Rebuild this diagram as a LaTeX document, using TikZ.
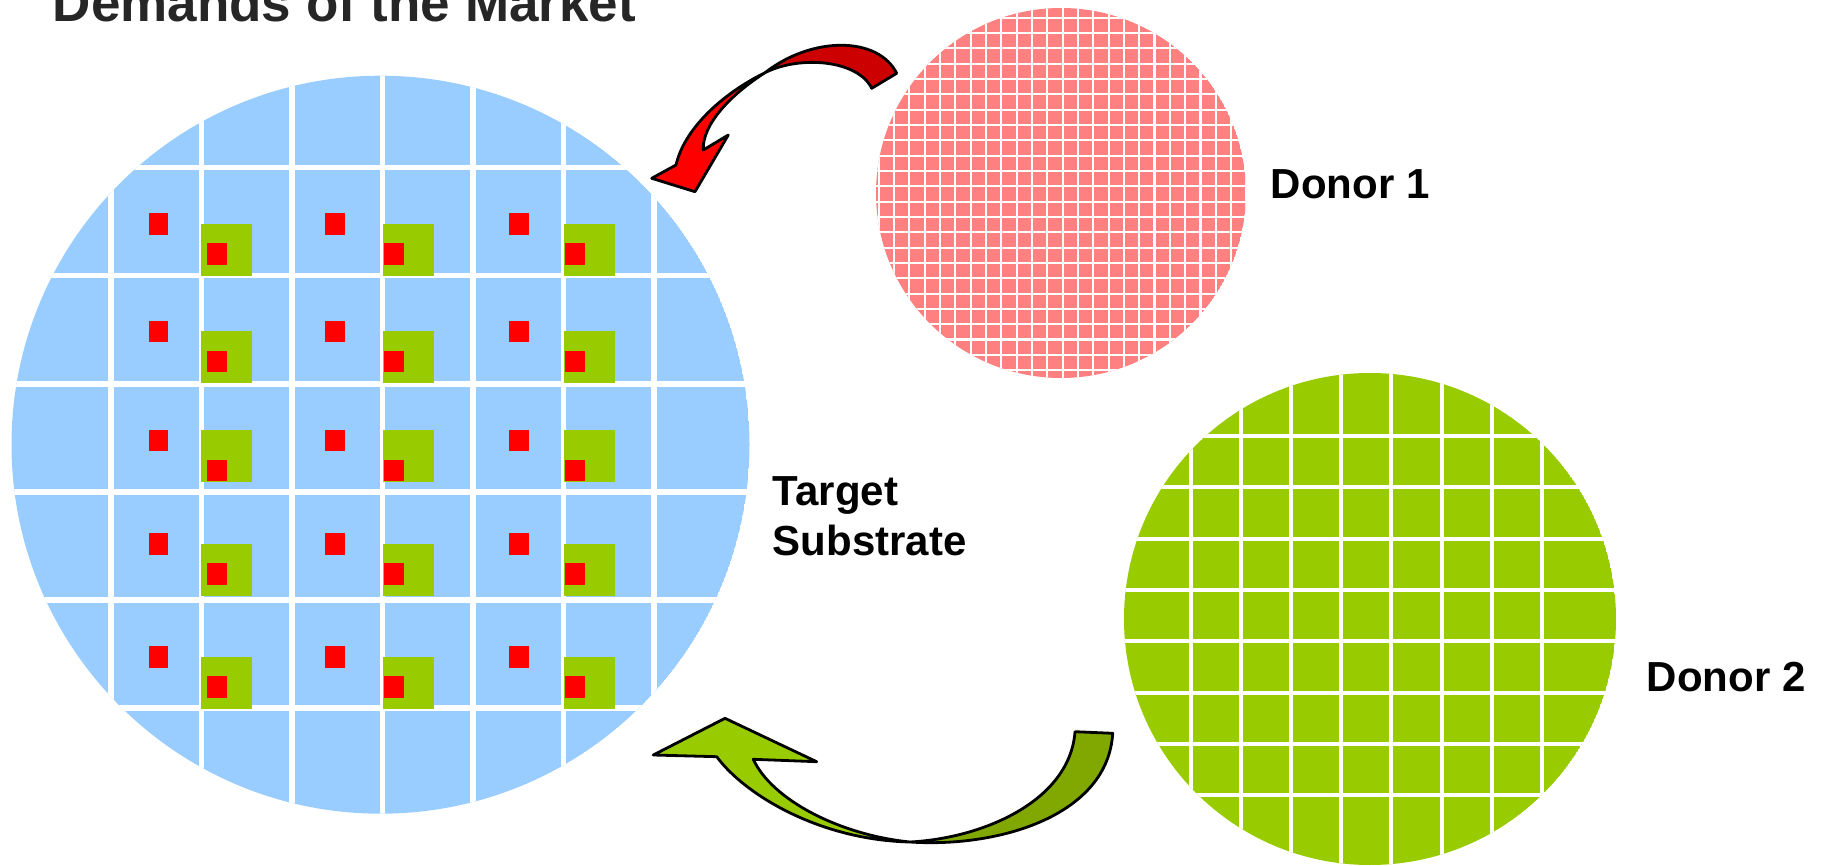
\documentclass[tikz,border=0pt]{standalone}
\usepackage{fontspec}
\setmainfont{Liberation Sans}
\usetikzlibrary{positioning}

\definecolor{waferblue}{RGB}{153,204,255}
\definecolor{donorpink}{RGB}{255,128,128}
\definecolor{chipgreen}{RGB}{153,204,0}
\definecolor{chipgreendark}{RGB}{128,168,0}
\definecolor{chipred}{RGB}{255,0,0}
\definecolor{chipreddark}{RGB}{204,0,0}
\definecolor{titlegray}{RGB}{38,38,38}

\begin{document}
\begin{tikzpicture}[
    x=1pt, y=-1pt,
    cut/.style={white, line width=5.5pt},
    finecut/.style={white, line width=2.2pt},
    chip/.style={fill=chipred},
    tile/.style={fill=chipgreen},
    ribbon/.style={draw=black, line width=2.8pt, line join=round},
    caption/.style={font=\fontsize{42}{50}\selectfont\bfseries, inner sep=0pt, anchor=base west, align=left}
]
\useasboundingbox (0,0) rectangle (1821,866);

% --- Target substrate ---
\coordinate (target) at (380.5,444.7);
\begin{scope}
    \clip (target) circle (369);
    \fill[waferblue] (target) circle (369);
    \foreach \x in {0,...,6}
        \draw[cut] (111+90.5*\x,60) -- (111+90.5*\x,830);
    \foreach \y in {0,...,5}
        \draw[cut] (0,167.6+108.1*\y) -- (760,167.6+108.1*\y);
\end{scope}
% own chip in every other column, transferred tile beside it
\foreach \rx/\gx/\ix in {148.8/201.2/207, 325.3/383/384, 509/564.2/565}
    \foreach \ry/\gy/\iy in {213.2/223.8/243.2, 320.8/331/350.8, 429.9/429.9/459.9,
                             533.1/544.2/563.2, 646/657.2/676}{
        \fill[chip] (\rx,\ry) rectangle ++(19.5,21.5);
        \fill[tile] (\gx,\gy) rectangle ++(51,52);
        \fill[chip] (\ix,\iy) rectangle ++(19.5,21.5);
    }

% --- Donor 1 ---
\coordinate (donor1) at (1061,193);
\begin{scope}
    \clip (donor1) circle (185);
    \fill[donorpink] (donor1) circle (185);
    \foreach \k in {-13,...,13}{
        \draw[finecut] (1062.6+15.33*\k,0) -- ++(0,400);
        \draw[finecut] (860,186.3+15.33*\k) -- ++(400,0);
    }
\end{scope}

% --- Donor 2 ---
\coordinate (donor2) at (1370,619);
\begin{scope}
    \clip (donor2) circle (246);
    \fill[chipgreen] (donor2) circle (246);
    \foreach \k in {-3,...,4}
        \draw[cut, line width=4pt] (1341.3+50.1*\k,360) -- ++(0,520);
    \foreach \k in {-4,...,3}
        \draw[cut, line width=4pt] (1110,641.3+51.3*\k) -- ++(520,0);
\end{scope}

% --- Transfer arrows (twisted ribbons) ---
\filldraw[ribbon, fill=chipreddark] (896.7,73.3) .. controls (878,36) and (812,36) .. (765,72.7)
    .. controls (800,55) and (858,60) .. (871.7,88.3) -- cycle;
\filldraw[ribbon, fill=chipred] (765,72.7) .. controls (720,95) and (684,130) .. (676,165)
    -- (651.7,178.3) -- (695,191.7) -- (728.3,135) -- (703.3,150)
    .. controls (702,125) and (730,95) .. (765,72.7) -- cycle;

\filldraw[ribbon, fill=chipgreendark] (1075,731.7) -- (1112.7,733.3)
    .. controls (1108,815) and (1000,848) .. (910,842)
    .. controls (985,838) and (1070,800) .. (1075,731.7) -- cycle;
\filldraw[ribbon, fill=chipgreen] (910,842) .. controls (820,840) and (745,795) .. (716.7,756.7)
    -- (653.3,755) -- (725,718.3) -- (816.7,761.7) -- (753.3,759.3)
    .. controls (772,800) and (840,835) .. (910,842) -- cycle;

% --- Labels ---
\node[caption, text=titlegray, font=\fontsize{53}{60}\selectfont\bfseries] (title) at (52.7,21.7) {Demands of the Market};
% base sits on the last line
\node[caption] (targetlabel) at (772.7,555) {Target\\Substrate};
\node[caption] (donor1label) at (1270.7,198.3) {Donor 1};
\node[caption] (donor2label) at (1646.7,691.7) {Donor 2};

\end{tikzpicture}
\end{document}
